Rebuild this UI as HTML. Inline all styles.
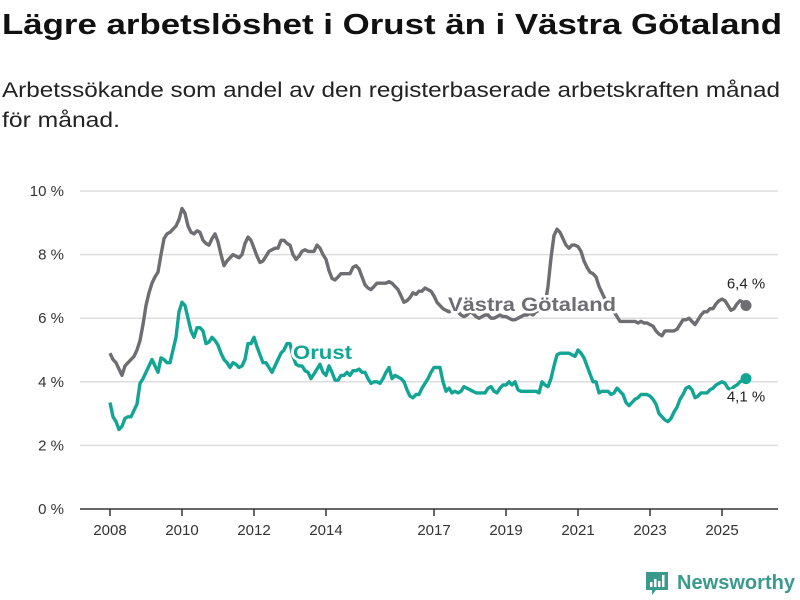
<!DOCTYPE html>
<html><head><meta charset="utf-8"><style>
html,body{margin:0;padding:0;background:#fff;}
svg{display:block;font-family:"Liberation Sans",sans-serif;}
</style></head><body>
<svg id="chart" width="800" height="600" viewBox="0 0 800 600" xmlns="http://www.w3.org/2000/svg">
<text x="2" y="34" font-size="29" font-weight="bold" fill="#111" textLength="780" lengthAdjust="spacingAndGlyphs">Lägre arbetslöshet i Orust än i Västra Götaland</text>
<text x="2" y="97" font-size="21" fill="#222" textLength="778" lengthAdjust="spacingAndGlyphs">Arbetssökande som andel av den registerbaserade arbetskraften månad</text>
<text x="2" y="127" font-size="21" fill="#222" textLength="118" lengthAdjust="spacingAndGlyphs">för månad.</text>
<g id="grid"></g>
<g id="xaxis"></g>
<g id="series"></g>
<g id="labels"></g>
<g>
<path d="M646 572 h22 v18 h-12 l-4 5 v-5 h-6 z" fill="#3a9a8c"/>
<rect x="650" y="582" width="2.5" height="5" fill="#fff"/><rect x="654" y="579" width="2.5" height="8" fill="#fff"/><rect x="658" y="581" width="2.5" height="6" fill="#fff"/><rect x="662" y="575" width="2.5" height="12" fill="#fff"/>
<text x="677" y="589" font-size="20" font-weight="bold" fill="#3a9a8c" textLength="118" lengthAdjust="spacingAndGlyphs">Newsworthy</text>
</g>
</svg>
<script>
const yTicks = [0, 2, 4, 6, 8, 10];
const yTickLabels = ["0 %", "2 %", "4 %", "6 %", "8 %", "10 %"];
const xTickYears = [2008, 2010, 2012, 2014, 2017, 2019, 2021, 2023, 2025];
const startYear = 2008;
const vastraGotaland = [
4.9,4.7,4.6,4.4,4.2,4.5,4.6,4.7,4.8,5.0,5.3,5.8,
6.4,6.8,7.1,7.3,7.45,8.0,8.5,8.65,8.7,8.8,8.9,9.1,
9.45,9.3,8.9,8.7,8.65,8.75,8.7,8.45,8.35,8.3,8.5,8.65,
8.4,8.0,7.65,7.8,7.9,8.0,7.95,7.9,8.0,8.35,8.55,8.45,
8.2,7.95,7.75,7.8,7.95,8.1,8.15,8.2,8.2,8.45,8.45,8.35,
8.3,8.0,7.85,7.95,8.1,8.15,8.1,8.1,8.1,8.3,8.2,8.0,
7.85,7.5,7.25,7.2,7.3,7.4,7.4,7.4,7.4,7.6,7.65,7.55,
7.3,7.05,6.95,6.9,7.0,7.1,7.1,7.1,7.1,7.15,7.1,7.0,
6.9,6.7,6.5,6.55,6.65,6.8,6.75,6.85,6.85,6.95,6.9,6.85,
6.7,6.5,6.4,6.3,6.25,6.2,6.25,6.2,6.2,6.1,6.05,6.1,
6.2,6.15,6.05,6.0,6.05,6.1,6.1,6.0,6.0,6.05,6.1,6.05,
6.05,6.0,5.95,5.95,6.0,6.05,6.1,6.1,6.15,6.1,6.2,6.25,
6.3,6.4,7.0,7.9,8.6,8.8,8.7,8.5,8.3,8.2,8.3,8.3,
8.25,8.1,7.8,7.6,7.45,7.4,7.3,7.0,6.8,6.6,6.45,6.3,
6.2,6.05,5.9,5.9,5.9,5.9,5.9,5.9,5.85,5.9,5.85,5.85,
5.8,5.75,5.6,5.5,5.45,5.6,5.6,5.6,5.6,5.65,5.8,5.95,
5.95,6.0,5.9,5.8,5.95,6.1,6.2,6.2,6.3,6.3,6.45,6.55,
6.6,6.55,6.4,6.25,6.3,6.45,6.55,6.5,6.4];
const orust = [
3.35,2.9,2.75,2.5,2.6,2.85,2.9,2.9,3.1,3.3,3.95,4.1,
4.3,4.5,4.7,4.5,4.3,4.75,4.7,4.6,4.6,5.0,5.4,6.2,
6.5,6.4,6.0,5.6,5.4,5.7,5.7,5.6,5.2,5.25,5.4,5.3,
5.15,4.9,4.7,4.6,4.45,4.6,4.55,4.45,4.5,4.7,5.2,5.2,
5.4,5.1,4.85,4.6,4.6,4.45,4.3,4.5,4.7,4.9,5.0,5.2,
5.2,4.8,4.55,4.5,4.5,4.35,4.3,4.1,4.25,4.4,4.55,4.3,
4.2,4.5,4.3,4.05,4.05,4.2,4.2,4.3,4.2,4.35,4.35,4.4,
4.3,4.3,4.1,3.95,4.0,4.0,3.95,4.1,4.3,4.45,4.1,4.2,
4.15,4.1,4.0,3.75,3.55,3.5,3.6,3.6,3.8,3.95,4.1,4.3,
4.45,4.45,4.45,4.0,3.7,3.8,3.65,3.7,3.65,3.7,3.85,3.8,
3.75,3.7,3.65,3.65,3.65,3.65,3.8,3.85,3.7,3.65,3.8,3.9,
3.9,4.0,3.9,4.0,3.75,3.7,3.7,3.7,3.7,3.7,3.7,3.65,
4.0,3.9,3.85,4.1,4.5,4.85,4.9,4.9,4.9,4.9,4.85,4.8,
5.0,4.9,4.75,4.5,4.25,4.0,4.0,3.65,3.7,3.7,3.7,3.6,
3.65,3.8,3.7,3.6,3.35,3.25,3.35,3.45,3.5,3.6,3.6,3.6,
3.55,3.45,3.3,3.0,2.9,2.8,2.75,2.85,3.05,3.2,3.45,3.6,
3.8,3.85,3.75,3.5,3.55,3.65,3.65,3.65,3.75,3.8,3.9,3.95,
4.0,3.95,3.8,3.75,3.85,3.9,4.0,4.05,4.1];
const lastLabels = ["6,4 %", "4,1 %"];

const NS = "http://www.w3.org/2000/svg";
const x = m => 110 + m * 3;
const y = v => 509 - v * 31.8;
function mk(tag, attrs, parent){ const e=document.createElementNS(NS,tag); for(const k in attrs) e.setAttribute(k,attrs[k]); parent.appendChild(e); return e; }
const grid=document.getElementById('grid'), xa=document.getElementById('xaxis'), se=document.getElementById('series'), lb=document.getElementById('labels');
yTicks.forEach((t,i)=>{
  const l=mk('line',{x1:80,x2:778,y1:y(t),y2:y(t),stroke:t===0?'#333':'#ddd','stroke-width':1.5},grid);
  
  
  const tx=mk('text',{x:64,y:y(t)+5,'text-anchor':'end','font-size':15,fill:'#333'},grid);
  tx.textContent=yTickLabels[i];
  
  
});
xTickYears.forEach(yr=>{
  const px=x((yr-startYear)*12);
  const t=mk('line',{x1:px,x2:px,y1:509,y2:516,stroke:'#333','stroke-width':1.5},xa);
  
  
  const tx=mk('text',{x:px,y:535,'text-anchor':'middle','font-size':15,fill:'#333'},xa);
  tx.textContent=yr;
  
  
});
function line(data,color,name){
  const d=data.map((v,i)=>(i?'L':'M')+x(i).toFixed(1)+' '+y(v).toFixed(1)).join(' ');
  const p=mk('path',{d:d,fill:'none',stroke:color,'stroke-width':3.4,'stroke-linejoin':'round'},se);
  
  
  const n=data.length-1;
  const c=mk('circle',{cx:x(n),cy:y(data[n]),r:5.5,fill:color},se);
  
  
}
line(vastraGotaland,'#6e6d72','vastra-gotaland');
line(orust,'#12a594','orust');
function label(txt,px,py,color,size,weight,anchor,name,len){
  const t=mk('text',{x:px,y:py,fill:color,'font-size':size,'font-weight':weight,'text-anchor':anchor,stroke:'#fff','stroke-width':5,'paint-order':'stroke','stroke-linejoin':'round'},lb);
  if(len){ t.setAttribute('textLength',len); t.setAttribute('lengthAdjust','spacingAndGlyphs'); }
  t.textContent=txt;
  
  
}
label('Västra Götaland',448,311,'#6e6d72',19,'bold','start','vastra-gotaland-label',168);
label('Orust',293,359,'#12a594',19,'bold','start','orust-label',59);
const n=vastraGotaland.length-1;
label(lastLabels[0],x(n),y(vastraGotaland[n])-17,'#222',15,'normal','middle','vastra-gotaland-last-value');
label(lastLabels[1],x(n),y(orust[n])+23,'#222',15,'normal','middle','orust-last-value');
</script>
</body></html>
